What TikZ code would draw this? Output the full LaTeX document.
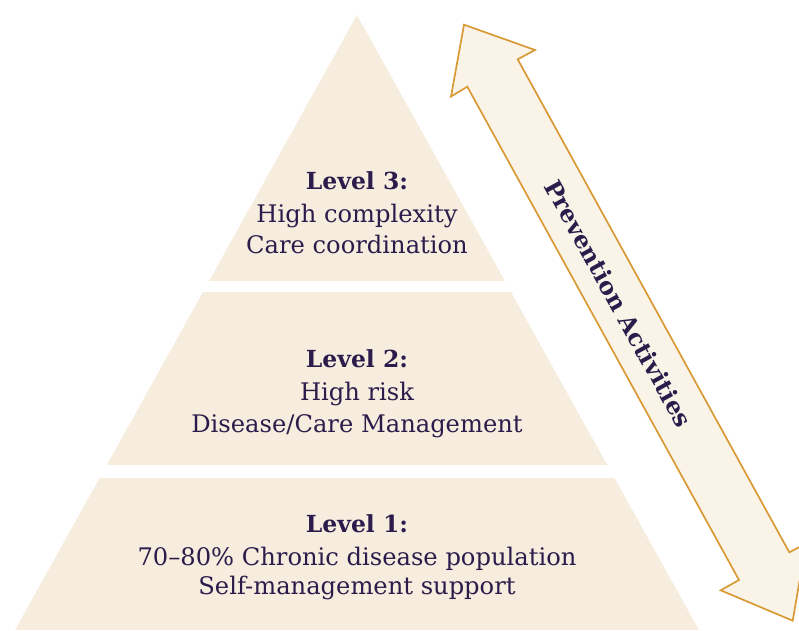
\documentclass[tikz,border=0pt]{standalone}
\usepackage{fontspec}
\setmainfont{DejaVu Serif}
\begin{document}
\definecolor{tierfill}{HTML}{F7EDDE}
\definecolor{arrowfill}{HTML}{FAF3E8}
\definecolor{arrowline}{HTML}{D99A35}
\definecolor{ink}{HTML}{2B1C4B}
\begin{tikzpicture}[x=1pt,y=-1pt,
  tier/.style={fill=tierfill,draw=none},
  lbl/.style={anchor=base,text=ink,inner sep=0pt,font=\fontsize{24.2}{28}\selectfont},
  lblhead/.style={lbl,font=\fontsize{23.5}{28}\selectfont\bfseries},
  band/.style={fill=arrowfill,draw=arrowline,line width=1.7pt,line join=miter}]
\useasboundingbox (0,0) rectangle (799,630);
\clip (0,0) rectangle (799,630);

% pyramid tiers
\fill[tier] (357,15) -- (505,281) -- (209,281) -- cycle;
\fill[tier] (203,292) -- (511,292) -- (607.2,465) -- (106.8,465) -- cycle;
\fill[tier] (99.5,478) -- (614.5,478) -- (699,630) -- (15,630) -- cycle;

% double-headed prevention arrow
\draw[band] (464,24.7) -- (535,50) -- (517.7,59.3) -- (789.3,552.3)
  -- (806,543.5) -- (792.7,620.7) -- (720.7,590.3) -- (739,580)
  -- (467.3,86.7) -- (451,96.5) -- cycle;
\node[text=ink,font=\fontsize{23.8}{28}\selectfont\bfseries,rotate=-61.1] (prev) at (618.5,303.5) {Prevention Activities};

% level 3
\node[lblhead] (l3a) at (357,189) {Level 3:};
\node[lbl] (l3b) at (357,222.5) {High complexity};
\node[lbl] (l3c) at (357,253) {Care coordination};
% level 2
\node[lblhead] (l2a) at (357,367) {Level 2:};
\node[lbl] (l2b) at (357,400) {High risk};
\node[lbl] (l2c) at (357,432) {Disease/Care Management};
% level 1
\node[lblhead] (l1a) at (357,532.3) {Level 1:};
\node[lbl] (l1b) at (357,565) {70–80\% Chronic disease population};
\node[lbl] (l1c) at (357,594.3) {Self-management support};
\end{tikzpicture}
\end{document}
